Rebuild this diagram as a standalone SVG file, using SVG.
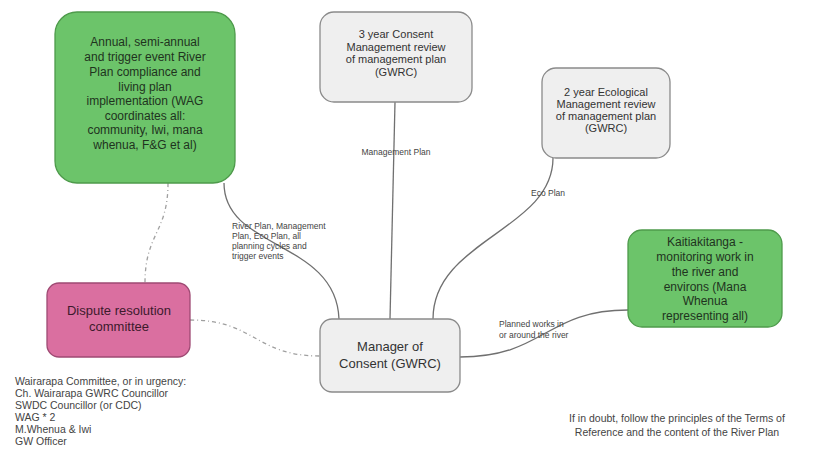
<svg xmlns="http://www.w3.org/2000/svg" width="821" height="450" viewBox="0 0 821 450">
<style>
text{font-family:"Liberation Sans",Arial,sans-serif;fill:#333;}
.green rect{fill:#6cc46a;stroke:#4e9a4b;stroke-width:1.3;}
.grey rect{fill:#efefef;stroke:#8a8a8a;stroke-width:1.3;}
.pink rect{fill:#da6fa0;stroke:#9e4a73;stroke-width:1.3;}
.green text{fill:#1f331e;font-size:12px;text-anchor:middle;}
.grey text{fill:#333;text-anchor:middle;}
.pink text{fill:#3d1a2c;font-size:13px;text-anchor:middle;}
.conn path{fill:none;stroke:#707070;stroke-width:1.3;}
.conn path.dash{stroke:#a0a0a0;stroke-dasharray:4 3 1 3;}
.lbl{font-size:8.5px;fill:#444;}
.note{font-size:10.5px;fill:#444;}
</style>
<g id="connectors" class="conn">
<path d="M224,183 C224,250 336,240 339,319"/>
<path d="M395,102 L390,319"/>
<path d="M553,158 C553,230 433,240 433,319"/>
<path d="M460,357 C545,357 545,310 628,310"/>
<path class="dash" d="M168,183 C168,233 145,233 145,283"/>
<path class="dash" d="M190,320 C255,320 255,356 320,356"/>
</g>
<g id="connector-labels">
<text class="lbl" x="396" y="155" text-anchor="middle">Management Plan</text>
<text class="lbl" x="548" y="196" text-anchor="middle">Eco Plan</text>
<text class="lbl" x="232" y="229">River Plan, Management</text>
<text class="lbl" x="232" y="239">Plan, Eco Plan, all</text>
<text class="lbl" x="232" y="249">planning cycles and</text>
<text class="lbl" x="232" y="259">trigger events</text>
<text class="lbl" x="499" y="327">Planned works in</text>
<text class="lbl" x="499" y="338">or around the river</text>
</g>
<g id="node-annual" class="green">
<rect x="55" y="12" width="180" height="171" rx="22"/>
<text x="145" y="46">Annual, semi-annual</text>
<text x="145" y="61">and trigger event River</text>
<text x="145" y="76">Plan compliance and</text>
<text x="145" y="91">living plan</text>
<text x="145" y="105">implementation (WAG</text>
<text x="145" y="120">coordinates all:</text>
<text x="145" y="134">community, Iwi, mana</text>
<text x="145" y="149">whenua, F&amp;G et al)</text>
</g>
<g id="node-consent-review" class="grey">
<rect x="320" y="12" width="152" height="90" rx="14"/>
<text x="396" y="38" font-size="11">3 year Consent</text>
<text x="396" y="51" font-size="11">Management review</text>
<text x="396" y="63" font-size="11">of management plan</text>
<text x="396" y="76" font-size="11">(GWRC)</text>
</g>
<g id="node-eco-review" class="grey">
<rect x="542" y="68" width="128" height="90" rx="14"/>
<text x="606" y="96" font-size="11">2 year Ecological</text>
<text x="606" y="108" font-size="11">Management review</text>
<text x="606" y="120" font-size="11">of management plan</text>
<text x="606" y="132" font-size="11">(GWRC)</text>
</g>
<g id="node-manager" class="grey">
<rect x="320" y="319" width="140" height="73" rx="12"/>
<text x="390" y="351" font-size="13">Manager of</text>
<text x="390" y="368" font-size="13">Consent (GWRC)</text>
</g>
<g id="node-kaitiakitanga" class="green">
<rect x="628" y="230" width="154" height="97" rx="14"/>
<text x="705" y="246">Kaitiakitanga -</text>
<text x="705" y="261">monitoring work in</text>
<text x="705" y="276">the river and</text>
<text x="705" y="291">environs (Mana</text>
<text x="705" y="305">Whenua</text>
<text x="705" y="320">representing all)</text>
</g>
<g id="node-dispute" class="pink">
<rect x="47" y="283" width="143" height="74" rx="12"/>
<text x="119" y="315">Dispute resolution</text>
<text x="119" y="331">committee</text>
</g>
<g id="note-committee">
<text class="note" x="15" y="385">Wairarapa Committee, or in urgency:</text>
<text class="note" x="15" y="397">Ch. Wairarapa GWRC Councillor</text>
<text class="note" x="15" y="409">SWDC Councillor (or CDC)</text>
<text class="note" x="15" y="421">WAG * 2</text>
<text class="note" x="15" y="433">M.Whenua &amp; Iwi</text>
<text class="note" x="15" y="445">GW Officer</text>
</g>
<g id="note-doubt">
<text class="note" x="677" y="422" text-anchor="middle" font-size="11">If in doubt, follow the principles of the Terms of</text>
<text class="note" x="677" y="436" text-anchor="middle" font-size="11">Reference and the content of the River Plan</text>
</g>
</svg>
